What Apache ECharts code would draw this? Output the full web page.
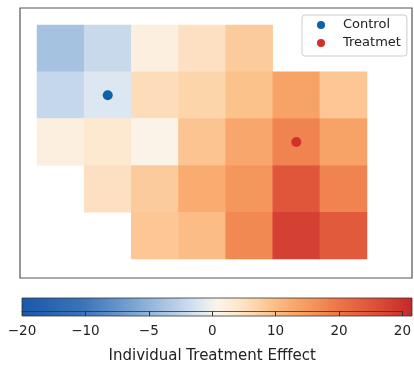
<!DOCTYPE html>
<html>
<head>
<meta charset="utf-8">
<script src="https://cdn.jsdelivr.net/npm/echarts@6/dist/echarts.min.js"></script>
<style>
  html, body { margin: 0; padding: 0; background: #fff; }
  #chart { width: 414px; height: 365px; }
</style>
</head>
<body>
<div id="chart"></div>
<script>
// grid columns / rows (row 0 is the top row)
const cols = ['0', '1', '2', '3', '4', '5', '6']
const rows = ['0', '1', '2', '3', '4']

// individual treatment effect per cell, null = no cell
const row0 = [-5.6, -3.2, 0.8, 2.8, 4.8, null, null]
const row1 = [-3.4, -1.8, 3.2, 4.0, 5.6, 8.4, 5.2]
const row2 = [0.8, 2.0, 0.2, 5.4, 8.0, 11.2, 8.4]
const row3 = [null, 2.8, 4.8, 7.6, 9.6, 15.6, 11.2]
const row4 = [null, null, 5.2, 6.0, 10.8, 17.6, 15.2]

// unit positions [col, row]
const controlPts = [[1, 1]]
const treatPts = [[5, 2]]

// colour bar
const cbarLabels = ['\u221220', '\u221210', '\u22125', '0', '10', '20', '20']
const cmap = ['#1b59a9', '#2360ad', '#2f6ab3', '#3a72b8', '#4f83c2', '#6896cb',
  '#83a9d4', '#9fbedf', '#bcd1e8', '#d9e5f2', '#fbf4ea', '#fde8d0', '#fdd5aa',
  '#fbbd85', '#f8a66b', '#f39358', '#ee7a4b', '#e66641', '#de5238', '#d23d31', '#c5272a']

const allRows = [row0, row1, row2, row3, row4]
const heat = []
allRows.forEach((r, yi) => {
  r.forEach((v, xi) => {
    if (v !== null) heat.push([xi, yi, v])
  })
})

const font = 'DejaVu Sans'
const myChart = echarts.init(document.getElementById('chart'))

const option = {
  animation: false,
  textStyle: { fontFamily: font },
  grid: [
    { left: 37, top: 25, width: 330, height: 234 },
    { left: 22, top: 298, width: 390, height: 18 }
  ],
  xAxis: [
    { type: 'category', gridIndex: 0, data: cols, show: false },
    {
      type: 'category', gridIndex: 1, data: cbarLabels, boundaryGap: false,
      axisLine: { show: true, lineStyle: { color: '#333', width: 0.8 } },
      axisTick: { show: true, length: 5, lineStyle: { color: '#333' } },
      axisLabel: { color: '#222', fontSize: 13.5, fontFamily: font, margin: 13, showMaxLabel: true, showMinLabel: true, interval: 0 },
      splitLine: { show: false },
      name: 'Individual Treatment Efffect',
      nameLocation: 'middle',
      nameGap: 38,
      nameTextStyle: { color: '#222', fontSize: 15, fontFamily: font }
    }
  ],
  yAxis: [
    { type: 'category', gridIndex: 0, data: rows, inverse: true, show: false },
    { type: 'value', gridIndex: 1, show: false }
  ],
  visualMap: {
    show: false,
    seriesIndex: 0,
    min: -20,
    max: 20,
    inRange: { color: cmap }
  },
  legend: {
    data: ['Control', 'Treatmet'],
    orient: 'vertical',
    left: 302,
    top: 15,
    padding: [3, 6, 6, 15],
    itemWidth: 8,
    itemHeight: 8,
    itemGap: 4,
    icon: 'circle',
    borderColor: '#cccccc',
    borderWidth: 1,
    borderRadius: 3,
    backgroundColor: '#fff',
    textStyle: { fontSize: 13, fontFamily: font, color: '#222', lineHeight: 14, padding: [0, 0, 0, 13] }
  },
  graphic: [
    {
      type: 'rect', z: 0, silent: true,
      shape: { x: 20, y: 8, width: 392, height: 270 },
      style: { fill: 'none', stroke: '#555', lineWidth: 1.2 }
    },
    {
      type: 'rect', z: 0, silent: true,
      shape: { x: 22, y: 298, width: 390, height: 18 },
      style: {
        fill: {
          type: 'linear', x: 0, y: 0, x2: 1, y2: 0,
          colorStops: cmap.map((c, i) => ({ offset: i / (cmap.length - 1), color: c }))
        },
        stroke: '#333', lineWidth: 0.8
      }
    }
  ],
  series: [
    {
      type: 'heatmap',
      xAxisIndex: 0,
      yAxisIndex: 0,
      data: heat,
      itemStyle: { borderWidth: 0 },
      emphasis: { disabled: true }
    },
    {
      name: 'Control',
      type: 'scatter',
      xAxisIndex: 0,
      yAxisIndex: 0,
      data: controlPts,
      symbol: 'circle',
      symbolSize: 10,
      itemStyle: { color: '#0c62ab', opacity: 1 },
      z: 5
    },
    {
      name: 'Treatmet',
      type: 'scatter',
      xAxisIndex: 0,
      yAxisIndex: 0,
      data: treatPts,
      symbol: 'circle',
      symbolSize: 10,
      itemStyle: { color: '#d3302a', opacity: 1 },
      z: 5
    }
  ]
}

myChart.setOption(option)
</script>
</body>
</html>
